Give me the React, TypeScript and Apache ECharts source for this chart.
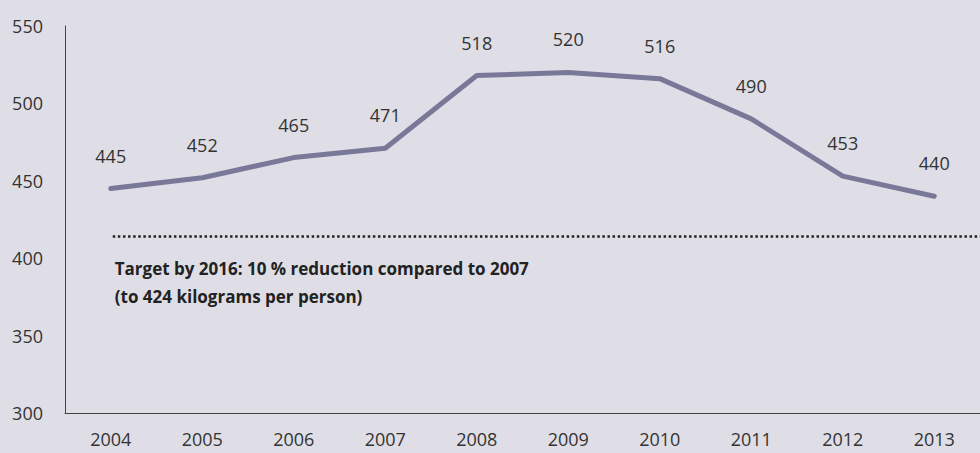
import React, { useEffect, useRef } from "react";
import * as echarts from "echarts";

const years = ["2004", "2005", "2006", "2007", "2008", "2009", "2010", "2011", "2012", "2013"];
const wastePerPerson = [445, 452, 465, 471, 518, 520, 516, 490, 453, 440];
const targetLevel = 414;
const targetText = ["Target by 2016: 10 % reduction compared to 2007", "(to 424 kilograms per person)"];
const yTicks = { min: 300, max: 550, interval: 50 };

export default function App() {
  const ref = useRef<HTMLDivElement>(null);
  useEffect(() => {
    if (!ref.current) return;
    const chart = echarts.init(ref.current, null, { renderer: "svg" });
    const font = "'Open Sans', 'Noto Sans', sans-serif";
    chart.setOption({
      animation: false,
      backgroundColor: "#dfdee6",
      grid: { left: 65, top: 26, bottom: 40, right: -16, containLabel: false },
      xAxis: {
        type: "category",
        data: years,
        boundaryGap: true,
        axisLine: { show: true, lineStyle: { color: "#444", width: 1 } },
        axisTick: { show: false },
        axisLabel: { color: "#333", fontSize: 18, fontFamily: font, margin: 17 },
        splitLine: { show: false },
      },
      yAxis: {
        type: "value",
        min: yTicks.min,
        max: yTicks.max,
        interval: yTicks.interval,
        axisLine: { show: true, lineStyle: { color: "#444", width: 1 } },
        axisTick: { show: false },
        axisLabel: { color: "#333", fontSize: 18, fontFamily: font, margin: 22 },
        splitLine: { show: false },
      },
      series: [
        {
          type: "line",
          data: wastePerPerson,
          symbol: "circle",
          symbolSize: 2,
          showSymbol: true,
          itemStyle: { color: "rgba(0,0,0,0)" },
          lineStyle: { color: "#7a7899", width: 5, cap: "round", join: "round" },
          label: {
            show: true,
            position: "top",
            distance: 23,
            color: "#333",
            fontSize: 18,
            fontFamily: font,
          },
        },
      ],
    });
    const p0 = chart.convertToPixel({ gridIndex: 0 }, [0, targetLevel]) as number[];
    const startX = p0[0] + 2;
    chart.setOption({
      graphic: [
        {
          type: "line",
          shape: { x1: startX, y1: p0[1], x2: 980, y2: p0[1] },
          style: { stroke: "#222", lineWidth: 2.5, lineDash: [2.5, 2.6] },
          silent: true,
        },
        {
          type: "text",
          left: startX + 2,
          top: p0[1] + 18,
          style: {
            text: targetText.join("\n"),
            fill: "#222",
            font: `bold 17px ${font}`,
            lineHeight: 28,
          },
        },
      ],
    });
    return () => chart.dispose();
  }, []);
  return <div ref={ref} style={{ position: "absolute", left: 0, top: 0, width: 980, height: 453 }} />;
}
